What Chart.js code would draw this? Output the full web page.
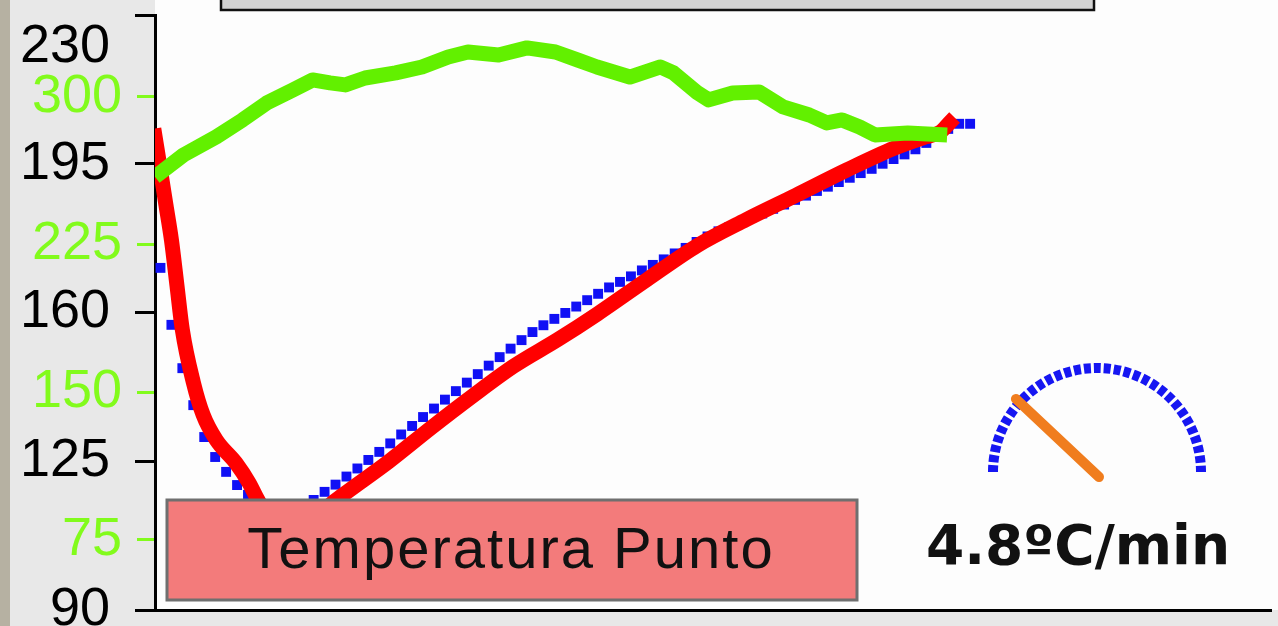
<!DOCTYPE html>
<html>
<head>
<meta charset="utf-8">
<script src="https://cdn.jsdelivr.net/npm/chart.js@4/dist/chart.umd.min.js"></script>
<style>
  html, body { margin: 0; padding: 0; background: #e8e8e8; overflow: hidden; }
  canvas { display: block; }
</style>
</head>
<body>
<canvas id="tempChart" width="1278" height="626"></canvas>
<script>
// axis ticks
const tempTicks = [90, 125, 160, 195, 230];
const powerTicks = [75, 150, 225, 300];

// measured temperature (red line), minutes / °C
const redMinutes = [0, 0.25, 0.5, 0.75, 1.0, 1.25, 1.75, 2.2, 2.8, 3.7, 4.3, 4.7, 5.5, 6.4, 7.3, 8.0, 8.6,
  10.7, 12.6, 14.5, 16.4, 18.4, 20.2, 22.5, 24.8, 27.0, 29.3, 31.6, 33.8, 35.2, 35.9, 36.3];
const redTemps = [201.5, 193.5, 185.3, 177.1, 166.5, 155.9, 143.6, 135.9, 130.0, 124.6, 119.9, 115.9, 108.8, 104.6, 110.0, 114.7, 117.1,
  125.0, 132.8, 140.3, 147.4, 153.6, 159.6, 167.8, 175.8, 181.8, 187.6, 193.5, 198.7, 201.3, 202.5, 204.6];

// setpoint (blue squares), one sample every half minute
const blueStart = 0.25;
const blueStep = 0.5;
const blueTemps = [170.5, 157.1, 146.9, 138.2, 130.7, 126.0, 122.5, 119.4, 117.1, 114.7,
  112.8, 111.6, 111.9, 113.5, 115.9, 117.8, 119.5, 121.4, 123.3, 125.3,
  127.2, 129.2, 131.3, 133.3, 135.4, 137.4, 139.5, 141.5, 143.5, 145.5,
  147.5, 149.5, 151.5, 153.5, 155.4, 157.0, 158.5, 159.9, 161.4, 162.9,
  164.4, 165.9, 167.2, 168.5, 169.9, 171.2, 172.5, 173.9, 175.2, 176.6,
  177.9, 179.1, 180.1, 181.2, 182.3, 183.3, 184.4, 185.4, 186.5, 187.5,
  188.6, 189.6, 190.7, 191.7, 192.8, 193.8, 195.0, 196.1, 197.2, 198.4,
  199.9, 201.5, 203.2, 204.4, 204.4];

// green line (scale drawn in green)
const greenMinutes = [0, 1.3, 2.8, 4.0, 5.1, 6.3, 7.2, 8.0, 8.7, 9.6, 11.0, 12.2, 13.4, 14.3, 15.7, 17.0, 18.3,
  19.3, 20.2, 21.7, 23.1, 23.7, 24.8, 25.3, 26.4, 27.6, 28.7, 29.9, 30.7, 31.4, 32.2, 32.9, 34.4, 36.2];
const greenValues = [259.4, 270.5, 279.7, 288.3, 296.9, 303.5, 308.6, 307.1, 306.1, 309.6, 312.2, 315.2, 320.3, 322.8, 321.3, 324.9, 322.8,
  318.8, 315.2, 310.1, 315.2, 312.2, 302.0, 298.5, 302.0, 302.5, 294.9, 290.8, 286.8, 288.3, 284.7, 280.7, 281.7, 280.7];

const boxLabel = 'Temperatura Punto';
const rateValue = 4.8;
const rateMax = 20;
const rateText = rateValue.toFixed(1) + 'ºC/min';

const sans = "'Liberation Sans', Arial, sans-serif";
const lightGreen = '#82fb1c';

// background panels
const backdrop = {
    id: 'backdrop',
    // green axis has no width of its own, let its labels use the grey column
    afterLayout(chart) {
        chart.scales.y2.left = chart.scales.y.left;
    },
    beforeDraw(chart) {
        const { ctx, chartArea: a, width, height } = chart;
        ctx.save();
        ctx.fillStyle = '#e8e8e8';
        ctx.fillRect(0, 0, width, height);
        ctx.fillStyle = '#b6b1a2';
        ctx.fillRect(0, 0, 10, height);
        ctx.fillStyle = '#fdfdfd';
        ctx.fillRect(a.left, 0, width - a.left, a.bottom);
        // grey bar at the top
        ctx.fillStyle = '#d3d3d3';
        ctx.fillRect(221, -3, 873, 13);
        ctx.strokeStyle = '#111';
        ctx.lineWidth = 2.5;
        ctx.strokeRect(221, -3, 873, 13);
        ctx.restore();
    }
};

// label box and rate gauge
const overlay = {
    id: 'overlay',
    afterDatasetsDraw(chart) {
        const ctx = chart.ctx;
        ctx.save();
        ctx.fillStyle = '#f37b7b';
        ctx.fillRect(167, 500, 690, 100);
        ctx.strokeStyle = '#6f6f6f';
        ctx.lineWidth = 3;
        ctx.strokeRect(167, 500, 690, 100);
        ctx.fillStyle = '#111';
        ctx.font = '58px ' + sans;
        ctx.letterSpacing = '2px';
        ctx.textAlign = 'center';
        ctx.textBaseline = 'middle';
        ctx.fillText(boxLabel, 511, 552);

        // gauge
        const cx = 1097, cy = 472, r = 104;
        ctx.letterSpacing = '0px';
        ctx.strokeStyle = '#1616f2';
        ctx.lineWidth = 10;
        ctx.setLineDash([7, 3]);
        ctx.beginPath();
        ctx.arc(cx, cy, r, Math.PI, 2 * Math.PI);
        ctx.stroke();
        ctx.setLineDash([]);
        const ang = Math.PI * (1 - rateValue / rateMax);
        ctx.strokeStyle = '#f07d1e';
        ctx.lineWidth = 10;
        ctx.lineCap = 'round';
        ctx.beginPath();
        ctx.moveTo(cx + 2, cy + 5);
        ctx.lineTo(cx + 2 + Math.cos(ang) * 114, cy + 5 - Math.sin(ang) * 114);
        ctx.stroke();

        ctx.fillStyle = '#111';
        ctx.font = "bold 55px 'DejaVu Sans', Verdana, sans-serif";
        ctx.fillText(rateText, 1078, 550);
        ctx.restore();
    }
};

const ctx = document.getElementById('tempChart').getContext('2d');
new Chart(ctx, {
    type: 'line',
    data: {
        datasets: [
            {
                label: 'green',
                data: greenMinutes.map((m, i) => ({ x: m, y: greenValues[i] })),
                yAxisID: 'y2',
                borderColor: '#62f000',
                borderWidth: 15,
                borderJoinStyle: 'round',
                pointRadius: 0,
                tension: 0
            },
            {
                label: 'Temperatura',
                data: redMinutes.map((m, i) => ({ x: m, y: redTemps[i] })),
                yAxisID: 'y',
                borderColor: '#ff0000',
                borderWidth: 15,
                borderCapStyle: 'square',
                cubicInterpolationMode: 'monotone',
                pointRadius: 0
            },
            {
                label: 'Consigna',
                data: blueTemps.map((v, i) => ({ x: blueStart + i * blueStep, y: v })),
                yAxisID: 'y',
                showLine: false,
                pointStyle: 'rect',
                pointRadius: 7,
                pointBorderWidth: 0,
                pointBackgroundColor: '#1010f5',
                borderColor: '#1010f5'
            }
        ]
    },
    options: {
        responsive: false,
        animation: false,
        layout: { padding: { left: 10, top: 15, right: 0, bottom: 16 } },
        plugins: { legend: { display: false }, tooltip: { enabled: false } },
        scales: {
            x: {
                type: 'linear', min: 0, max: 51,
                grid: { display: false, drawTicks: false },
                ticks: { display: false },
                border: { color: '#000', width: 3 },
                afterFit(s) { s.height = 0; s.paddingLeft = 0; s.paddingRight = 0; }
            },
            y: {
                position: 'left', weight: 1, min: 90, max: 230,
                afterBuildTicks(s) { s.ticks = tempTicks.map(v => ({ value: v })); },
                ticks: {
                    autoSkip: false, color: '#000', padding: 25,
                    font: { family: sans, size: 54 },
                    callback: v => v === 230 ? ['', String(v)] : String(v)
                },
                grid: { drawOnChartArea: false, tickLength: 20, color: '#000', lineWidth: 3 },
                border: { color: '#000', width: 3 },
                afterFit(s) { s.width = 145; s.paddingTop = 0; s.paddingBottom = 0; }
            },
            y2: {
                position: 'left', weight: 0, min: 39.4, max: 341.6,
                afterBuildTicks(s) { s.ticks = powerTicks.map(v => ({ value: v })); },
                ticks: {
                    autoSkip: false, color: lightGreen, padding: 15,
                    font: { family: sans, size: 54 }
                },
                grid: { drawOnChartArea: false, tickLength: 18, color: lightGreen, lineWidth: 3 },
                border: { display: false },
                afterFit(s) { s.width = 0; s.paddingTop = 0; s.paddingBottom = 0; }
            }
        }
    },
    plugins: [backdrop, overlay]
});
</script>
</body>
</html>
